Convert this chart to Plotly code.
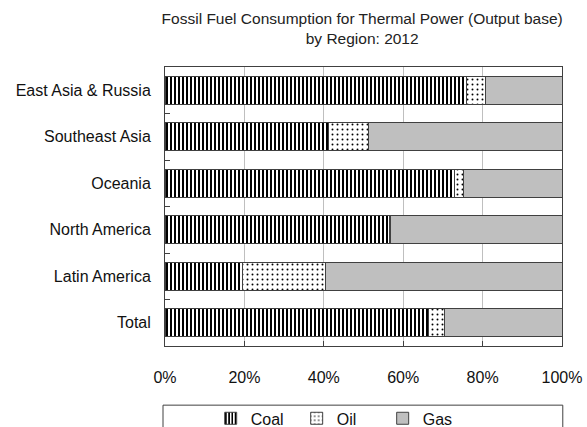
import plotly.graph_objects as go

regions = ["East Asia & Russia", "Southeast Asia", "Oceania",
           "North America", "Latin America", "Total"]
coal = [76.0, 41.1, 73.0, 56.5, 19.6, 66.3]
oil = [4.8, 10.1, 2.3, 0.3, 20.9, 4.2]
gas = [100 - c - o for c, o in zip(coal, oil)]

font = "Liberation Sans, Arial, sans-serif"

fig = go.Figure()

fig.add_trace(go.Bar(
    y=regions, x=coal, name="Coal", orientation="h",
    marker=dict(
        color="white",
        line=dict(color="#404040", width=1),
        pattern=dict(shape="|", fgcolor="black", bgcolor="white",
                     size=4, solidity=0.5, fillmode="replace")
    )
))

fig.add_trace(go.Bar(
    y=regions, x=oil, name="Oil", orientation="h",
    marker=dict(
        color="white",
        line=dict(color="#404040", width=1),
        pattern=dict(shape=".", fgcolor="black", bgcolor="white",
                     size=5, solidity=0.12, fillmode="replace")
    )
))

fig.add_trace(go.Bar(
    y=regions, x=gas, name="Gas", orientation="h",
    marker=dict(
        color="#BFBFBF",
        line=dict(color="#404040", width=1)
    )
))

fig.update_layout(
    barmode="stack",
    bargap=0.4,
    width=587,
    height=427,
    paper_bgcolor="white",
    plot_bgcolor="white",
    font=dict(family=font, size=16, color="#111111"),
    title=dict(
        text="Fossil Fuel Consumption for Thermal Power (Output base)<br>by Region: 2012",
        x=0.617, xref="container", xanchor="center",
        y=0.944, yref="container", yanchor="middle",
        font=dict(size=15.5, color="#222222")
    ),
    margin=dict(l=165, r=25, t=67, b=81, autoexpand=False),
    legend=dict(
        orientation="h",
        traceorder="normal",
        x=0.44, xanchor="center", xref="paper",
        y=0.06, yanchor="top", yref="container",
        font=dict(size=16),
        itemwidth=30,
        entrywidth=41,
        bgcolor="rgba(0,0,0,0)"
    ),
    shapes=[dict(
        type="rect", xref="paper", yref="paper",
        x0=-0.005, x1=1.002, y0=-0.32, y1=-0.212,
        line=dict(color="#404040", width=1)
    )]
)

fig.update_xaxes(
    range=[0, 100],
    tickvals=[0, 20, 40, 60, 80, 100],
    ticktext=["0%", "20%", "40%", "60%", "80%", "100%"],
    showgrid=True, gridcolor="#BFBFBF", gridwidth=1,
    showline=True, linecolor="#404040", mirror=True,
    ticks="inside", ticklen=5, tickcolor="#404040",
    ticklabelstandoff=17,
    zeroline=False, automargin=False
)

fig.update_yaxes(
    autorange="reversed",
    showline=True, linecolor="#404040", mirror=True,
    showgrid=False,
    ticks="inside", tickson="boundaries", ticklen=5, tickcolor="#404040",
    ticklabelstandoff=10, automargin=False
)

fig.write_html("out.html",
               config={"displayModeBar": False},
               post_script="document.body.style.margin='0';")
